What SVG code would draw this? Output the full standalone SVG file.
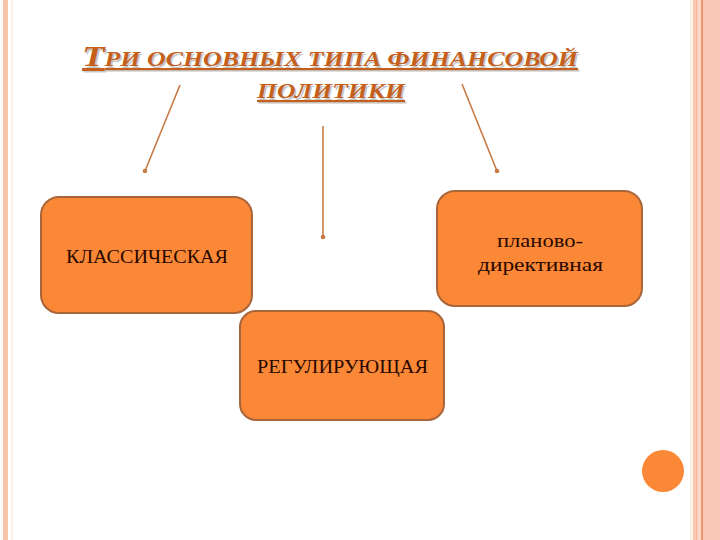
<svg xmlns="http://www.w3.org/2000/svg" width="720" height="540" viewBox="0 0 720 540">
<defs>
<style>
.box{fill:#FB8836;stroke:#A9653A;stroke-width:2}
.lbl{font-family:"Liberation Serif","DejaVu Serif",serif;font-size:18px;fill:#2A0800}
.ttl{font-family:"Liberation Serif","DejaVu Serif",serif;font-style:italic;font-weight:bold;text-decoration:underline}
.conn{stroke:#C87A45;stroke-width:1.6;fill:none;marker-end:url(#dot)}
</style>
<marker id="dot" viewBox="0 0 6 6" refX="3" refY="3" markerWidth="6" markerHeight="6" markerUnits="userSpaceOnUse">
<circle cx="3" cy="3" r="2.3" fill="#C87A45"/>
</marker>
</defs>
<rect width="720" height="540" fill="#FFFFFF"/>
<!-- borders -->
<rect x="3" y="0" width="5" height="540" fill="#FAC4AB"/>
<rect x="11" y="0" width="2" height="540" fill="#FDF0E4"/>
<rect x="690" y="0" width="3" height="540" fill="#FDF0E4"/>
<rect x="693" y="0" width="27" height="540" fill="#FAC8B4"/>
<rect x="696" y="0" width="1.5" height="540" fill="#F5B79C"/>
<rect x="701" y="0" width="2" height="540" fill="#EE9872"/>
<rect x="697.5" y="0" width="3.5" height="540" fill="#FCD8C8"/>
<circle cx="663" cy="471" r="21" fill="#FB8836"/>
<!-- title -->
<g id="title">
<text class="ttl" x="82" y="66" fill="#9A9A9A" opacity="0.55" transform="translate(1.5,1.5)" textLength="496" lengthAdjust="spacingAndGlyphs"><tspan font-size="30">Т</tspan><tspan font-size="21">РИ ОСНОВНЫХ ТИПА ФИНАНСОВОЙ</tspan></text>
<text class="ttl" x="82" y="66" fill="#C4601C" textLength="496" lengthAdjust="spacingAndGlyphs"><tspan font-size="30">Т</tspan><tspan font-size="21">РИ ОСНОВНЫХ ТИПА ФИНАНСОВОЙ</tspan></text>
<text class="ttl" x="257" y="98" font-size="21" fill="#9A9A9A" opacity="0.55" transform="translate(1.5,1.5)" textLength="148" lengthAdjust="spacingAndGlyphs">ПОЛИТИКИ</text>
<text class="ttl" x="257" y="98" font-size="21" fill="#C4601C" textLength="148" lengthAdjust="spacingAndGlyphs">ПОЛИТИКИ</text>
</g>
<!-- connectors -->
<g id="connectors">
<line class="conn" x1="180" y1="85" x2="145" y2="171"/>
<line class="conn" x1="323" y1="126" x2="323" y2="237"/>
<line class="conn" x1="462" y1="84" x2="497" y2="171"/>
</g>
<g id="node-classic">
<rect class="box" x="41" y="197" width="211" height="116" rx="18"/>
<text class="lbl" x="66" y="263" textLength="162" lengthAdjust="spacingAndGlyphs">КЛАССИЧЕСКАЯ</text>
</g>
<g id="node-regul">
<rect class="box" x="240" y="311" width="204" height="109" rx="16"/>
<text class="lbl" x="257" y="373" textLength="171" lengthAdjust="spacingAndGlyphs">РЕГУЛИРУЮЩАЯ</text>
</g>
<g id="node-plan">
<rect class="box" x="437" y="191" width="205" height="115" rx="18"/>
<text class="lbl" x="497" y="247" textLength="86" lengthAdjust="spacingAndGlyphs">планово-</text>
<text class="lbl" x="478" y="271" textLength="125" lengthAdjust="spacingAndGlyphs">директивная</text>
</g>
</svg>
